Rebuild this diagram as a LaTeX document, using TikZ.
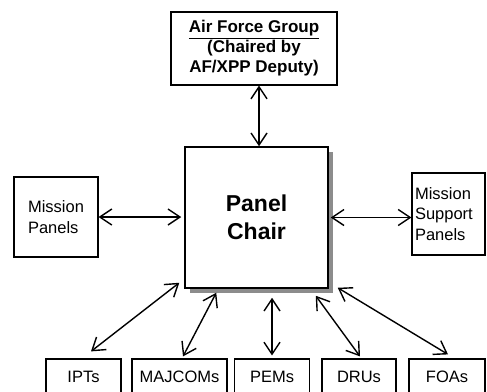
\documentclass[tikz,border=0pt]{standalone}
\usepackage{fontspec}
\setmainfont{Liberation Sans}
\usetikzlibrary{arrows.meta,calc,shadows}

\begin{document}
\begin{tikzpicture}[
  x=1pt, y=-1pt,
  every node/.style={font=\fontsize{16.5}{20.5}\selectfont},
  panelbox/.style={draw, line width=1.2pt, inner sep=3pt},
  chairbox/.style={draw, fill=white, line width=1.5pt, minimum width=143pt, minimum height=141pt, align=center, font=\fontsize{23}{28}\selectfont\bfseries, drop shadow={shadow xshift=5pt, shadow yshift=-5pt, fill=black!45, opacity=1}},
  unitbox/.style={panelbox, minimum height=36pt},
  link/.style={<->, >={Straight Barb[length=12pt,width=16pt]}, line width=1.4pt}
]
\useasboundingbox (0,0) rectangle (487,391);

\node[chairbox] (chair) at (256.5,217.5) {Panel\\Chair};
\node[panelbox, minimum width=166pt, minimum height=73pt, align=center, font=\fontsize{17}{20}\selectfont\bfseries] (afgroup) at (254,48.5) {\underline{Air Force Group}\\(Chaired by\\AF/XPP Deputy)};
\node[panelbox, minimum width=84pt, minimum height=80pt, align=left] (mission) at (56,217) {Mission\\Panels};
\node[panelbox, text width=67pt, minimum height=82pt, align=left] (support) at (448.5,214) {Mission\\Support\\Panels};

% bottom row
\node[unitbox, minimum width=75pt] (ipts) at (83.5,377) {IPTs};
\node[unitbox, minimum width=95pt] (majcoms) at (179.5,377) {MAJCOMs};
\node[unitbox, minimum width=75pt] (pems) at (272,377) {PEMs};
\node[unitbox, minimum width=74pt] (drus) at (359,377) {DRUs};
\node[unitbox, minimum width=76pt] (foas) at (447,377) {FOAs};

\draw[link] ($(chair.north |- afgroup.south)+(2.5,0)$) -- ($(chair.north)+(2.5,0)$);
\draw[link, shorten >=3pt] (mission.east) -- (mission.east -| chair.west);
\draw[link, shorten <=2pt] (chair.east) -- (chair.east -| support.west);
\draw[link] ($(ipts.north)+(7.5,-7)$) -- ($(chair.south west)+(-5,-6)$);
\draw[link] ($(majcoms.north)+(3.5,-2)$) -- ($(chair.south west)+(32,4)$);
\draw[link] ($(pems.north)+(0,-3)$) -- ($(pems.north |- chair.south)+(0,9)$);
\draw[link] ($(chair.south east)+(-13,7)$) -- ($(drus.north)+(1,-2)$);
\draw[link] ($(chair.south east)+(9,-1)$) -- ($(foas.north)+(1,-4)$);
\end{tikzpicture}
\end{document}
